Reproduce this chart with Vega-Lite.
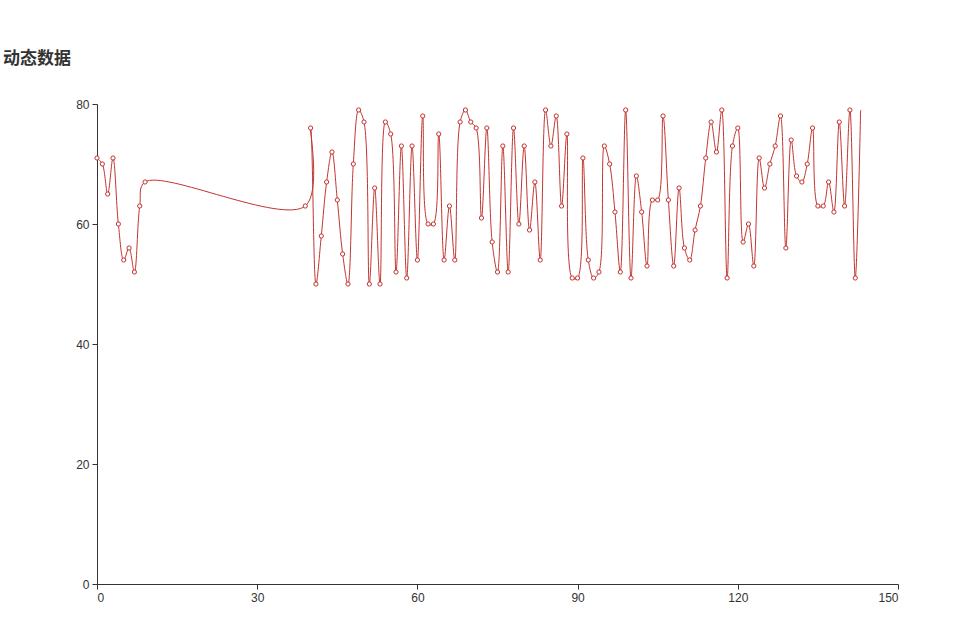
{
  "$schema": "https://vega.github.io/schema/vega-lite/v6.json",
  "autosize": "none",
  "width": 801,
  "height": 480,
  "padding": {"left": 97, "top": 104, "right": 70, "bottom": 44},
  "background": "white",
  "title": {
    "text": "动态数据",
    "anchor": "start",
    "frame": "group",
    "dx": -94,
    "offset": 30,
    "fontSize": 17,
    "fontWeight": "bold",
    "color": "#333333",
    "font": "Noto Sans CJK SC"
  },
  "data": {
    "values": [
      {"x": 0, "y": 71}, {"x": 1, "y": 70}, {"x": 2, "y": 65}, {"x": 3, "y": 71}, {"x": 4, "y": 60},
      {"x": 5, "y": 54}, {"x": 6, "y": 56}, {"x": 7, "y": 52}, {"x": 8, "y": 63}, {"x": 9, "y": 67},
      {"x": 39, "y": 63}, {"x": 40, "y": 76}, {"x": 41, "y": 50}, {"x": 42, "y": 58}, {"x": 43, "y": 67},
      {"x": 44, "y": 72}, {"x": 45, "y": 64}, {"x": 46, "y": 55}, {"x": 47, "y": 50}, {"x": 48, "y": 70},
      {"x": 49, "y": 79}, {"x": 50, "y": 77}, {"x": 51, "y": 50}, {"x": 52, "y": 66}, {"x": 53, "y": 50},
      {"x": 54, "y": 77}, {"x": 55, "y": 75}, {"x": 56, "y": 52}, {"x": 57, "y": 73}, {"x": 58, "y": 51},
      {"x": 59, "y": 73}, {"x": 60, "y": 54}, {"x": 61, "y": 78}, {"x": 62, "y": 60}, {"x": 63, "y": 60},
      {"x": 64, "y": 75}, {"x": 65, "y": 54}, {"x": 66, "y": 63}, {"x": 67, "y": 54}, {"x": 68, "y": 77},
      {"x": 69, "y": 79}, {"x": 70, "y": 77}, {"x": 71, "y": 76}, {"x": 72, "y": 61}, {"x": 73, "y": 76},
      {"x": 74, "y": 57}, {"x": 75, "y": 52}, {"x": 76, "y": 73}, {"x": 77, "y": 52}, {"x": 78, "y": 76},
      {"x": 79, "y": 60}, {"x": 80, "y": 73}, {"x": 81, "y": 59}, {"x": 82, "y": 67}, {"x": 83, "y": 54},
      {"x": 84, "y": 79}, {"x": 85, "y": 73}, {"x": 86, "y": 78}, {"x": 87, "y": 63}, {"x": 88, "y": 75},
      {"x": 89, "y": 51}, {"x": 90, "y": 51}, {"x": 91, "y": 71}, {"x": 92, "y": 54}, {"x": 93, "y": 51},
      {"x": 94, "y": 52}, {"x": 95, "y": 73}, {"x": 96, "y": 70}, {"x": 97, "y": 62}, {"x": 98, "y": 52},
      {"x": 99, "y": 79}, {"x": 100, "y": 51}, {"x": 101, "y": 68}, {"x": 102, "y": 62}, {"x": 103, "y": 53},
      {"x": 104, "y": 64}, {"x": 105, "y": 64}, {"x": 106, "y": 78}, {"x": 107, "y": 64}, {"x": 108, "y": 53},
      {"x": 109, "y": 66}, {"x": 110, "y": 56}, {"x": 111, "y": 54}, {"x": 112, "y": 59}, {"x": 113, "y": 63},
      {"x": 114, "y": 71}, {"x": 115, "y": 77}, {"x": 116, "y": 72}, {"x": 117, "y": 79}, {"x": 118, "y": 51},
      {"x": 119, "y": 73}, {"x": 120, "y": 76}, {"x": 121, "y": 57}, {"x": 122, "y": 60}, {"x": 123, "y": 53},
      {"x": 124, "y": 71}, {"x": 125, "y": 66}, {"x": 126, "y": 70}, {"x": 127, "y": 73}, {"x": 128, "y": 78},
      {"x": 129, "y": 56}, {"x": 130, "y": 74}, {"x": 131, "y": 68}, {"x": 132, "y": 67}, {"x": 133, "y": 70},
      {"x": 134, "y": 76}, {"x": 135, "y": 63}, {"x": 136, "y": 63}, {"x": 137, "y": 67}, {"x": 138, "y": 62},
      {"x": 139, "y": 77}, {"x": 140, "y": 63}, {"x": 141, "y": 79}, {"x": 142, "y": 51}, {"x": 143, "y": 79}
    ]
  },
  "encoding": {
    "x": {
      "field": "x",
      "type": "quantitative",
      "scale": {"domain": [0, 150], "nice": false, "zero": false},
      "axis": {
        "title": null,
        "values": [0, 30, 60, 90, 120, 150],
        "grid": false,
        "domainColor": "#333333",
        "tickColor": "#333333",
        "tickSize": 5,
        "labelColor": "#333333",
        "labelFontSize": 12,
        "labelFont": "Liberation Sans",
        "labelPadding": 3
      }
    },
    "y": {
      "field": "y",
      "type": "quantitative",
      "scale": {"domain": [0, 80], "nice": false},
      "axis": {
        "title": null,
        "values": [0, 20, 40, 60, 80],
        "grid": false,
        "domainColor": "#333333",
        "tickColor": "#333333",
        "tickSize": 5,
        "labelColor": "#333333",
        "labelFontSize": 12,
        "labelFont": "Liberation Sans",
        "labelPadding": 3
      }
    }
  },
  "layer": [
    {
      "mark": {"type": "line", "color": "#c23531", "strokeWidth": 1, "interpolate": "catmull-rom"}
    },
    {
      "transform": [{"filter": "datum.x < 143"}],
      "mark": {"type": "point", "shape": "circle", "filled": true, "fill": "white", "stroke": "#c23531", "strokeWidth": 1, "size": 18, "opacity": 1}
    }
  ],
  "config": {"view": {"stroke": null}}
}
